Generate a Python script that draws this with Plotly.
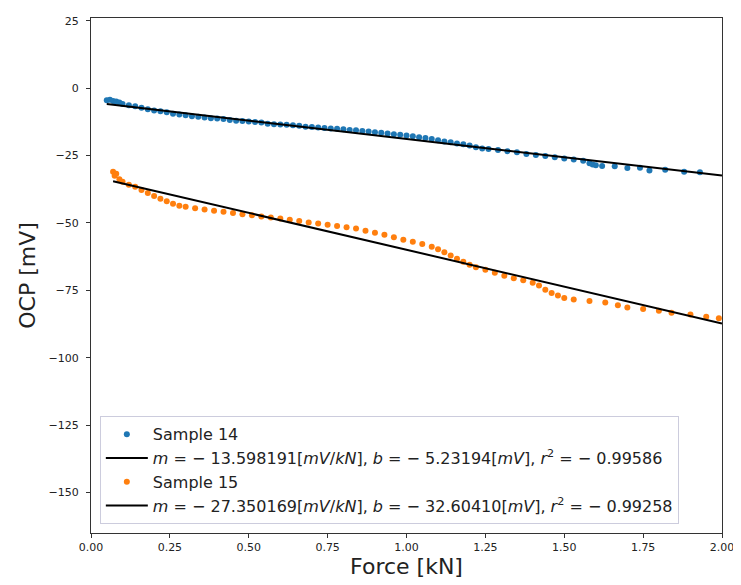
import numpy as np
import plotly.graph_objects as go

# Sample 14 data
s14_x = [0.05, 0.06, 0.07, 0.08, 0.09, 0.10, 0.12, 0.14, 0.16, 0.18, 0.20, 0.22, 0.24, 0.26, 0.28,
         0.30, 0.32, 0.34, 0.36, 0.38, 0.40, 0.42, 0.44, 0.46, 0.48, 0.50, 0.52, 0.54, 0.56, 0.58,
         0.60, 0.62, 0.64, 0.66, 0.68, 0.70, 0.72, 0.74, 0.76, 0.78, 0.80, 0.82, 0.84, 0.86, 0.88,
         0.90, 0.92, 0.94, 0.96, 0.98, 1.00, 1.02, 1.04, 1.06, 1.08, 1.10, 1.12, 1.14, 1.16, 1.18,
         1.20, 1.22, 1.24, 1.26, 1.29, 1.32, 1.35, 1.38, 1.41, 1.44, 1.47, 1.50, 1.53, 1.56, 1.58,
         1.59, 1.60, 1.62, 1.66, 1.70, 1.74, 1.77, 1.82, 1.88, 1.93]
s14_y = [-4.5, -4.3, -4.8, -5.0, -5.3, -5.9, -6.4, -6.7, -7.3, -7.8, -8.3, -8.6, -9.0, -9.5, -9.8,
         -10.1, -10.4, -10.6, -10.9, -11.2, -11.3, -11.5, -11.8, -12.1, -12.2, -12.4, -12.6, -12.8, -13.2, -13.4,
         -13.5, -13.6, -13.8, -14.0, -14.3, -14.4, -14.6, -14.8, -15.0, -15.1, -15.3, -15.5, -15.6, -15.9, -16.1,
         -16.4, -16.6, -16.8, -17.1, -17.3, -17.6, -17.9, -18.2, -18.5, -18.9, -19.3, -19.8, -20.1, -20.5, -20.8,
         -21.3, -21.9, -22.4, -22.6, -23.0, -23.4, -23.8, -24.4, -24.8, -25.2, -25.6, -26.1, -26.5, -26.9, -27.9,
         -28.3, -28.6, -28.9, -29.0, -29.6, -29.5, -30.6, -30.3, -31.0, -31.2]

# Sample 15 data
s15_x = [0.07, 0.075, 0.08, 0.09, 0.10, 0.12, 0.14, 0.16, 0.18, 0.20, 0.22, 0.24, 0.26, 0.28, 0.30,
         0.33, 0.36, 0.39, 0.42, 0.45, 0.48, 0.51, 0.54, 0.57, 0.60, 0.63, 0.66, 0.69, 0.72, 0.75,
         0.78, 0.81, 0.84, 0.87, 0.90, 0.93, 0.96, 0.99, 1.02, 1.05, 1.08, 1.10, 1.12, 1.14, 1.16,
         1.18, 1.20, 1.22, 1.25, 1.28, 1.31, 1.34, 1.37, 1.40, 1.42, 1.44, 1.46, 1.48, 1.50, 1.53,
         1.58, 1.63, 1.67, 1.70, 1.75, 1.80, 1.84, 1.90, 1.95, 1.99]
s15_y = [-31.0, -32.5, -31.8, -33.8, -34.7, -35.8, -36.6, -37.8, -38.9, -40.0, -41.0, -42.0, -42.9, -43.6, -44.0,
         -44.6, -45.0, -45.5, -45.9, -46.3, -46.8, -47.2, -47.6, -48.0, -48.4, -48.8, -49.3, -49.8, -50.2, -50.7,
         -51.1, -51.6, -52.1, -52.9, -53.6, -54.4, -55.3, -56.2, -57.0, -57.8, -58.8, -59.8, -60.9, -62.1, -63.3,
         -64.4, -65.5, -66.4, -67.4, -68.5, -69.6, -70.5, -71.3, -72.2, -73.2, -74.8, -76.0, -76.9, -77.8, -78.4,
         -79.0, -79.5, -80.5, -81.4, -81.9, -82.6, -83.3, -84.0, -84.8, -85.4]

# Fit parameters
fit14_m, fit14_b, fit14_r2 = -13.598191, -5.23194, -0.99586
fit15_m, fit15_b, fit15_r2 = -27.350169, -32.60410, -0.99258
fit14_x = [0.05, 2.0]
fit15_x = [0.07, 2.0]

x_ticks = [0.0, 0.25, 0.5, 0.75, 1.0, 1.25, 1.5, 1.75, 2.0]
y_ticks = [25, 0, -25, -50, -75, -100, -125, -150]


def fit_label(m, b, r2):
    return ("<i>m</i> = \u2212 %.6f[<i>mV</i>/<i>kN</i>], <i>b</i> = \u2212 %.5f"
            "[<i>mV</i>], <i>r</i><sup>2</sup> = \u2212 %.5f") % (abs(m), abs(b), abs(r2))


fig = go.Figure()
fig.add_trace(go.Scatter(x=s14_x, y=s14_y, mode="markers", name="Sample 14",
                         marker=dict(color="#1f77b4", size=6)))
fig.add_trace(go.Scatter(x=fit14_x, y=[fit14_m * v + fit14_b for v in fit14_x], mode="lines",
                         name=fit_label(fit14_m, fit14_b, fit14_r2),
                         line=dict(color="black", width=2)))
fig.add_trace(go.Scatter(x=s15_x, y=s15_y, mode="markers", name="Sample 15",
                         marker=dict(color="#ff7f0e", size=6)))
fig.add_trace(go.Scatter(x=fit15_x, y=[fit15_m * v + fit15_b for v in fit15_x], mode="lines",
                         name=fit_label(fit15_m, fit15_b, fit15_r2),
                         line=dict(color="black", width=2)))

axis_common = dict(showgrid=False, zeroline=False, showline=True, linecolor="#333", linewidth=1,
                   mirror=True, ticks="outside", ticklen=4, tickcolor="#333",
                   tickfont=dict(size=11, color="#222"))

fig.update_layout(
    width=733, height=577,
    margin=dict(l=83, r=14, t=7, b=52),
    paper_bgcolor="white", plot_bgcolor="white",
    font=dict(family="DejaVu Sans", color="#222"),
    xaxis=dict(range=[0, 2.0], tickvals=x_ticks, ticktext=["%.2f" % v for v in x_ticks],
               title=dict(text="Force [kN]", font=dict(size=22), standoff=4), **axis_common),
    yaxis=dict(range=[-165, 26], tickvals=y_ticks,
               ticktext=[("\u2212%d" % abs(v)) if v < 0 else str(v) for v in y_ticks],
               ticklabelstandoff=5,
               title=dict(text="OCP [mV]", font=dict(size=22), standoff=6), **axis_common),
    legend=dict(x=0.014, y=0.017, xanchor="left", yanchor="bottom",
                bgcolor="rgba(255,255,255,0.8)", bordercolor="#ccd", borderwidth=1,
                font=dict(size=16, color="#222"), tracegroupgap=0, itemwidth=42),
    showlegend=True,
)

fig.write_html("out.html")
